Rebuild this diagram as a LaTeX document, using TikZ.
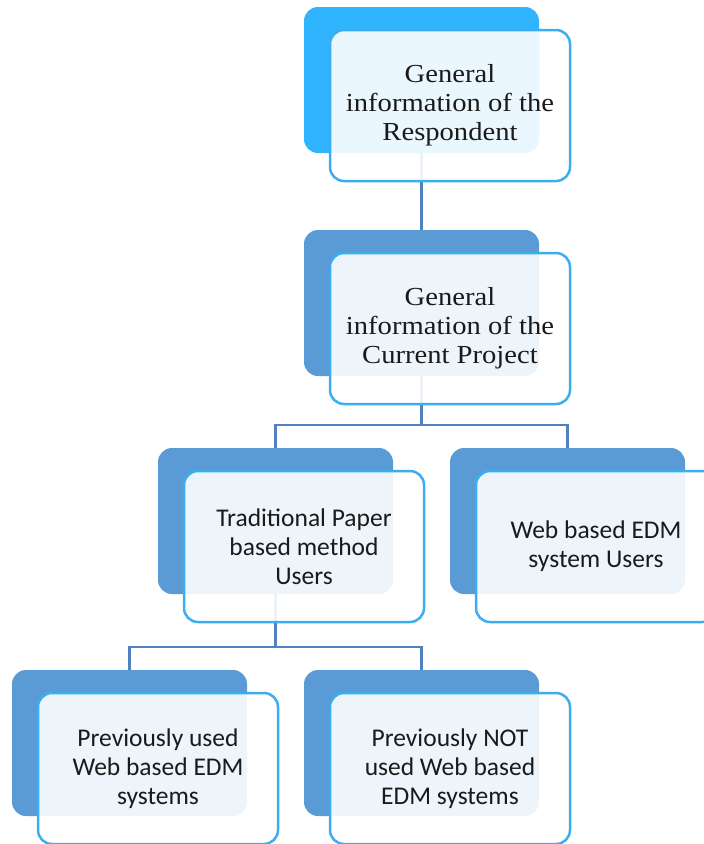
\documentclass[tikz,border=0pt]{standalone}
\usepackage{fontspec}
\newfontfamily\serifA[FakeStretch=1.1]{Liberation Serif}
\newfontfamily\sansA{Carlito}
\definecolor{backA}{HTML}{30B4FE}
\definecolor{backB}{HTML}{5B9BD5}
\definecolor{frontline}{HTML}{3AAEF0}
\definecolor{conn}{HTML}{4F82BE}
\definecolor{txt}{HTML}{1A1A1A}
\tikzset{
  backbox/.style={rectangle, rounded corners=14pt, fill=#1, draw=none,
    minimum width=235pt, minimum height=146pt, anchor=north west,
    outer sep=0pt, inner sep=0pt},
  frontbox/.style={rectangle, rounded corners=14pt, draw=frontline,
    line width=2.5pt, fill=white, fill opacity=0.9, text opacity=1,
    minimum width=240pt, minimum height=151pt, anchor=north west,
    align=center, text=txt, outer sep=0pt},
  serifbox/.style={frontbox, font=\serifA\fontsize{26}{29}\selectfont},
  sansbox/.style={frontbox, font=\sansA\fontsize{25.5}{29}\selectfont},
  link/.style={draw=conn, line width=2.6pt}
}
\begin{document}
\begin{tikzpicture}[x=1pt,y=-1pt]
\clip (0,0) rectangle (704,844);
\fill[white] (0,0) rectangle (704,844);
% back rectangles
\node[backbox=backA] (b1) at (304,7) {};
\node[backbox=backB] (b2) at (304,230) {};
\node[backbox=backB] (b3) at (158,448) {};
\node[backbox=backB] (b4) at (450,448) {};
\node[backbox=backB] (b5) at (12,670) {};
\node[backbox=backB] (b6) at (304,670) {};
% junctions
\coordinate (j1) at (0,425);
\coordinate (j2) at (0,647);
% connectors
\draw[link] (b1.south) -- (b2.north);
\draw[link] (b2.south) -- (b2.south |- j1) -| (b3.north);
\draw[link] (b2.south |- j1) -| (b4.north);
\draw[link] (b3.south) -- (b3.south |- j2) -| (b5.north);
\draw[link] (b3.south |- j2) -| (b6.north);
% front boxes
\node[serifbox] (f1) at (330,30) {General\\information of the\\Respondent};
\node[serifbox] (f2) at (330,253) {General\\information of the\\Current Project};
\node[sansbox] (f3) at (184,471) {Traditional Paper\\based method\\Users};
\node[sansbox] (f4) at (476,471) {Web based EDM\\system Users};
\node[sansbox] (f5) at (38,693) {Previously used\\Web based EDM\\systems};
\node[sansbox] (f6) at (330,693) {Previously NOT\\used Web based\\EDM systems};
\end{tikzpicture}
\end{document}
